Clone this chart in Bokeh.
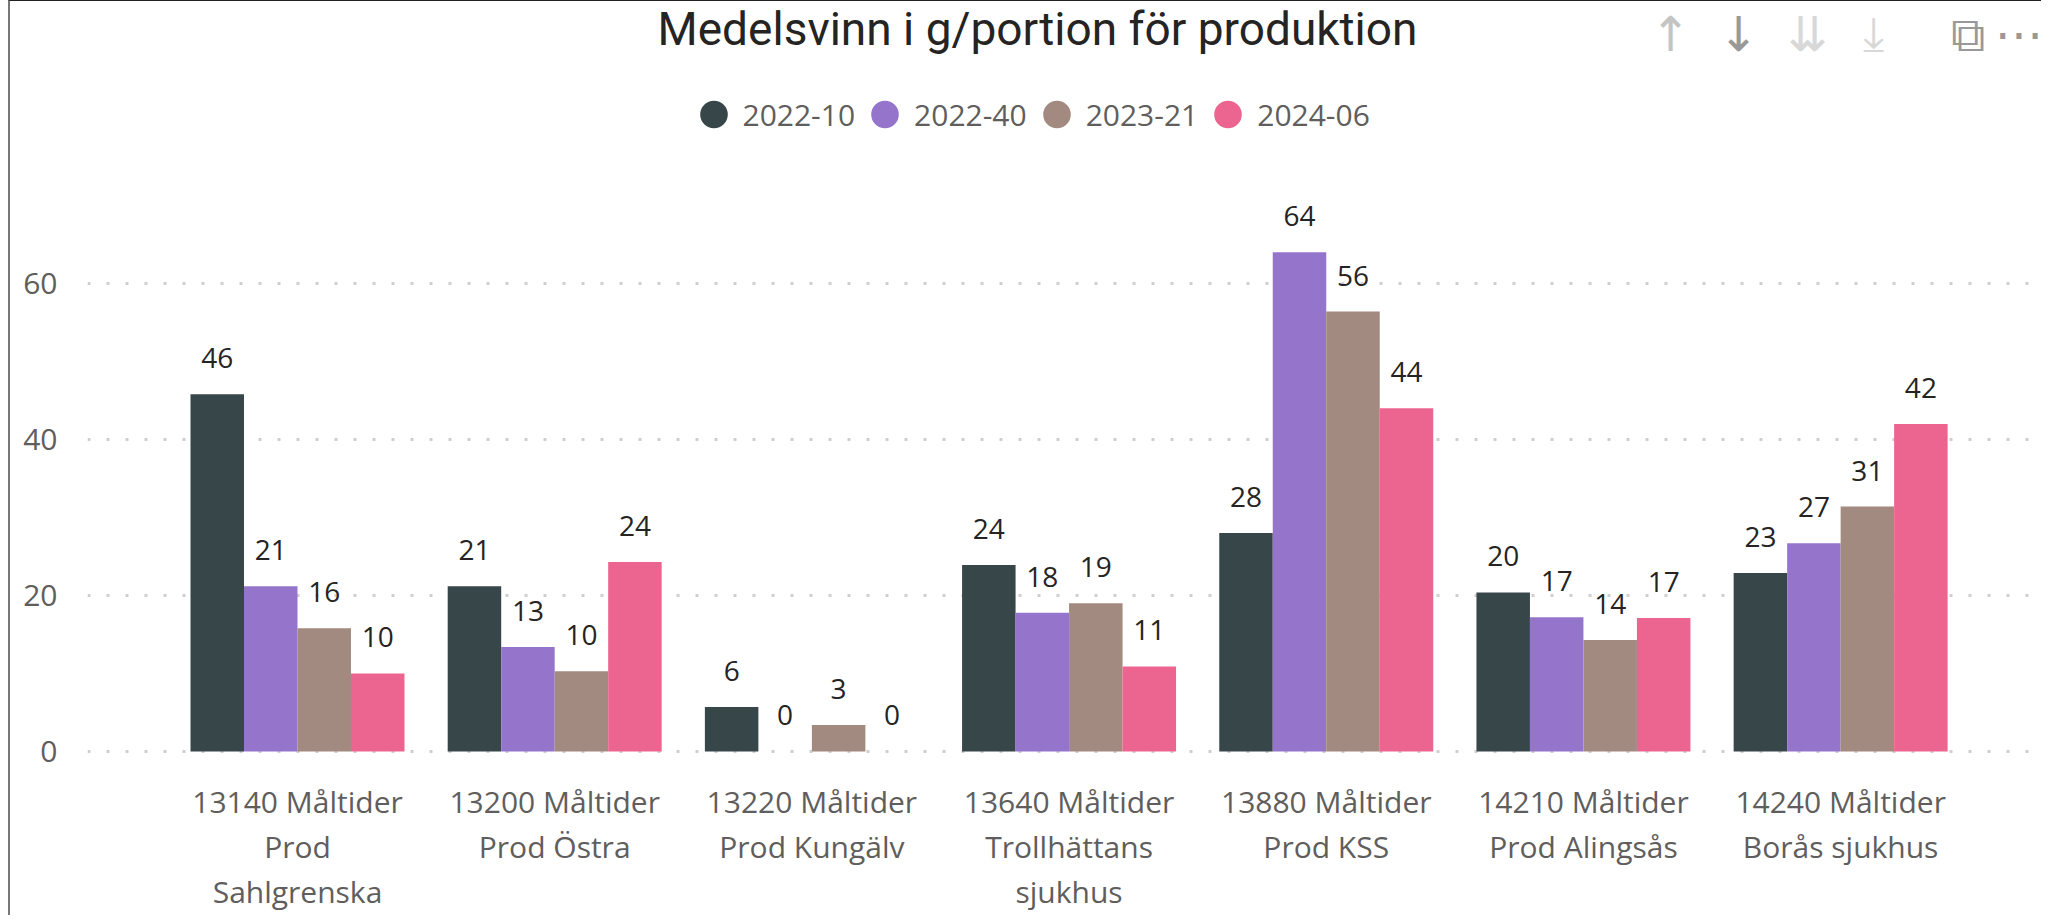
from bokeh.plotting import figure
from bokeh.models import (Range1d, FixedTicker, Legend, LegendItem, Label, ColumnDataSource)
from bokeh.core.properties import value
from bokeh.embed import file_html
from bokeh.resources import INLINE

# ---------------- data ----------------
categories = [
    "13140 Måltider\nProd\nSahlgrenska",
    "13200 Måltider\nProd Östra",
    "13220 Måltider\nProd Kungälv",
    "13640 Måltider\nTrollhättans\nsjukhus",
    "13880 Måltider\nProd KSS",
    "14210 Måltider\nProd Alingsås",
    "14240 Måltider\nBorås sjukhus",
]
series_names = ["2022-10", "2022-40", "2023-21", "2024-06"]
s_2022_10 = [45.8, 21.2, 5.7, 23.9, 28.0, 20.4, 22.9]
s_2022_40 = [21.2, 13.4, 0.0, 17.8, 64.0, 17.2, 26.7]
s_2023_21 = [15.8, 10.3, 3.4, 19.0, 56.4, 14.3, 31.4]
s_2024_06 = [10.0, 24.3, 0.0, 10.9, 44.0, 17.1, 42.0]
series_values = [s_2022_10, s_2022_40, s_2023_21, s_2024_06]
y_ticks = [0, 20, 40, 60]
title_text = "Medelsvinn i g/portion för produktion"

colors = ["#374649", "#9575CB", "#A38A80", "#EC6591"]
FONT = "Open Sans"
GRAY = "#605E5C"

TOP = 1      # page y of frame top
LEFT = 87    # page x of frame left
FRAME_W, FRAME_H = 1954, 755 - TOP
PX_Y = 7.8
X0, X1 = -0.8165, 6.781
Y0 = -0.513
Y1 = Y0 + FRAME_H / PX_Y
PX_X = FRAME_W / (X1 - X0)

p = figure(width=77 + FRAME_W, height=FRAME_H + 160, frame_width=FRAME_W, frame_height=FRAME_H,
           x_range=Range1d(X0, X1), y_range=Range1d(Y0, Y1),
           output_backend="svg", toolbar_location=None,
           min_border_left=77, min_border_right=0, min_border_top=0, min_border_bottom=160)
p.outline_line_color = None
p.background_fill_color = "white"
p.border_fill_color = "white"
p.styles = {"border-top": "1px solid #222222", "border-left": "2px solid #777777",
            "margin-left": "8px", "margin-top": "0px"}

def sx(px):
    return X0 + (px - LEFT) / PX_X

def sy(py):
    return Y1 - (py - TOP) / PX_Y

# title
p.add_layout(Label(x=sx(1037), y=sy(28.5), text=title_text, text_align="center",
                   text_baseline="middle", text_font="Roboto", text_font_size="46px",
                   text_color="#252423"))

bar_w = 0.208
offsets = [-1.5 * bar_w, -0.5 * bar_w, 0.5 * bar_w, 1.5 * bar_w]
idx = list(range(len(categories)))

legend_items = []
for k, (name, vals, col) in enumerate(zip(series_names, series_values, colors)):
    xs = [i + offsets[k] for i in idx]
    src = ColumnDataSource(dict(x=xs, top=vals, lab=[f"{v:.0f}" for v in vals]))
    p.vbar(x="x", top="top", bottom=0, width=bar_w, source=src,
           fill_color=col, line_color=None)
    p.text(x="x", y="top", text="lab", source=src, text_align="center",
           text_baseline="middle", y_offset=-36, text_font=value(FONT),
           text_font_size="28px", text_color="#252423")
    dummy = p.scatter(x=[float("nan")], y=[float("nan")], marker="circle",
                      fill_color=col, line_color=col, line_width=4)
    legend_items.append(LegendItem(label=name, renderers=[dummy]))

legend = Legend(items=legend_items, orientation="horizontal",
                location=(713 - 29.5 - LEFT, 755 - 149),
                glyph_width=59, glyph_height=70, label_standoff=0, spacing=0,
                padding=0, margin=0, border_line_color=None,
                background_fill_alpha=0,
                label_text_font=FONT, label_text_font_size="30px",
                label_text_color=GRAY)
p.add_layout(legend, "center")

# axes
p.xaxis.ticker = FixedTicker(ticks=idx)
p.xaxis.major_label_overrides = {i: c for i, c in zip(idx, categories)}
p.xaxis.axis_line_color = None
p.xaxis.major_tick_line_color = None
p.xaxis.minor_tick_line_color = None
p.xaxis.major_label_text_font = FONT
p.xaxis.major_label_text_font_size = "30px"
p.xaxis.major_label_text_color = GRAY
p.xaxis.major_label_text_line_height = 1.1
p.xaxis.major_label_standoff = 19

p.yaxis.ticker = FixedTicker(ticks=y_ticks)
p.yaxis.axis_line_color = None
p.yaxis.major_tick_line_color = None
p.yaxis.minor_tick_line_color = None
p.yaxis.major_label_text_font = FONT
p.yaxis.major_label_text_font_size = "30px"
p.yaxis.major_label_text_color = GRAY
p.yaxis.major_label_standoff = 24

p.xgrid.grid_line_color = None
p.ygrid.grid_line_color = "#CFCFCF"
p.ygrid.grid_line_width = 3
p.ygrid.grid_line_dash = "3 16"

# visual header icons (Power BI chrome)
icons = [("↑", 1670, "#C4C4C4"), ("↓", 1738, "#999999"), ("⇊", 1807, "#D8D8D8"),
         ("⤓", 1873, "#D8D8D8"), ("⧉", 1967, "#999999"), ("⋯", 2018, "#999999")]
for t, px, c in icons:
    p.add_layout(Label(x=sx(px), y=sy(33), text=t, text_align="center",
                       text_baseline="middle", text_font="DejaVu Sans",
                       text_font_size="48px", text_color=c))

open("out.html", "w").write(file_html(p, INLINE))
